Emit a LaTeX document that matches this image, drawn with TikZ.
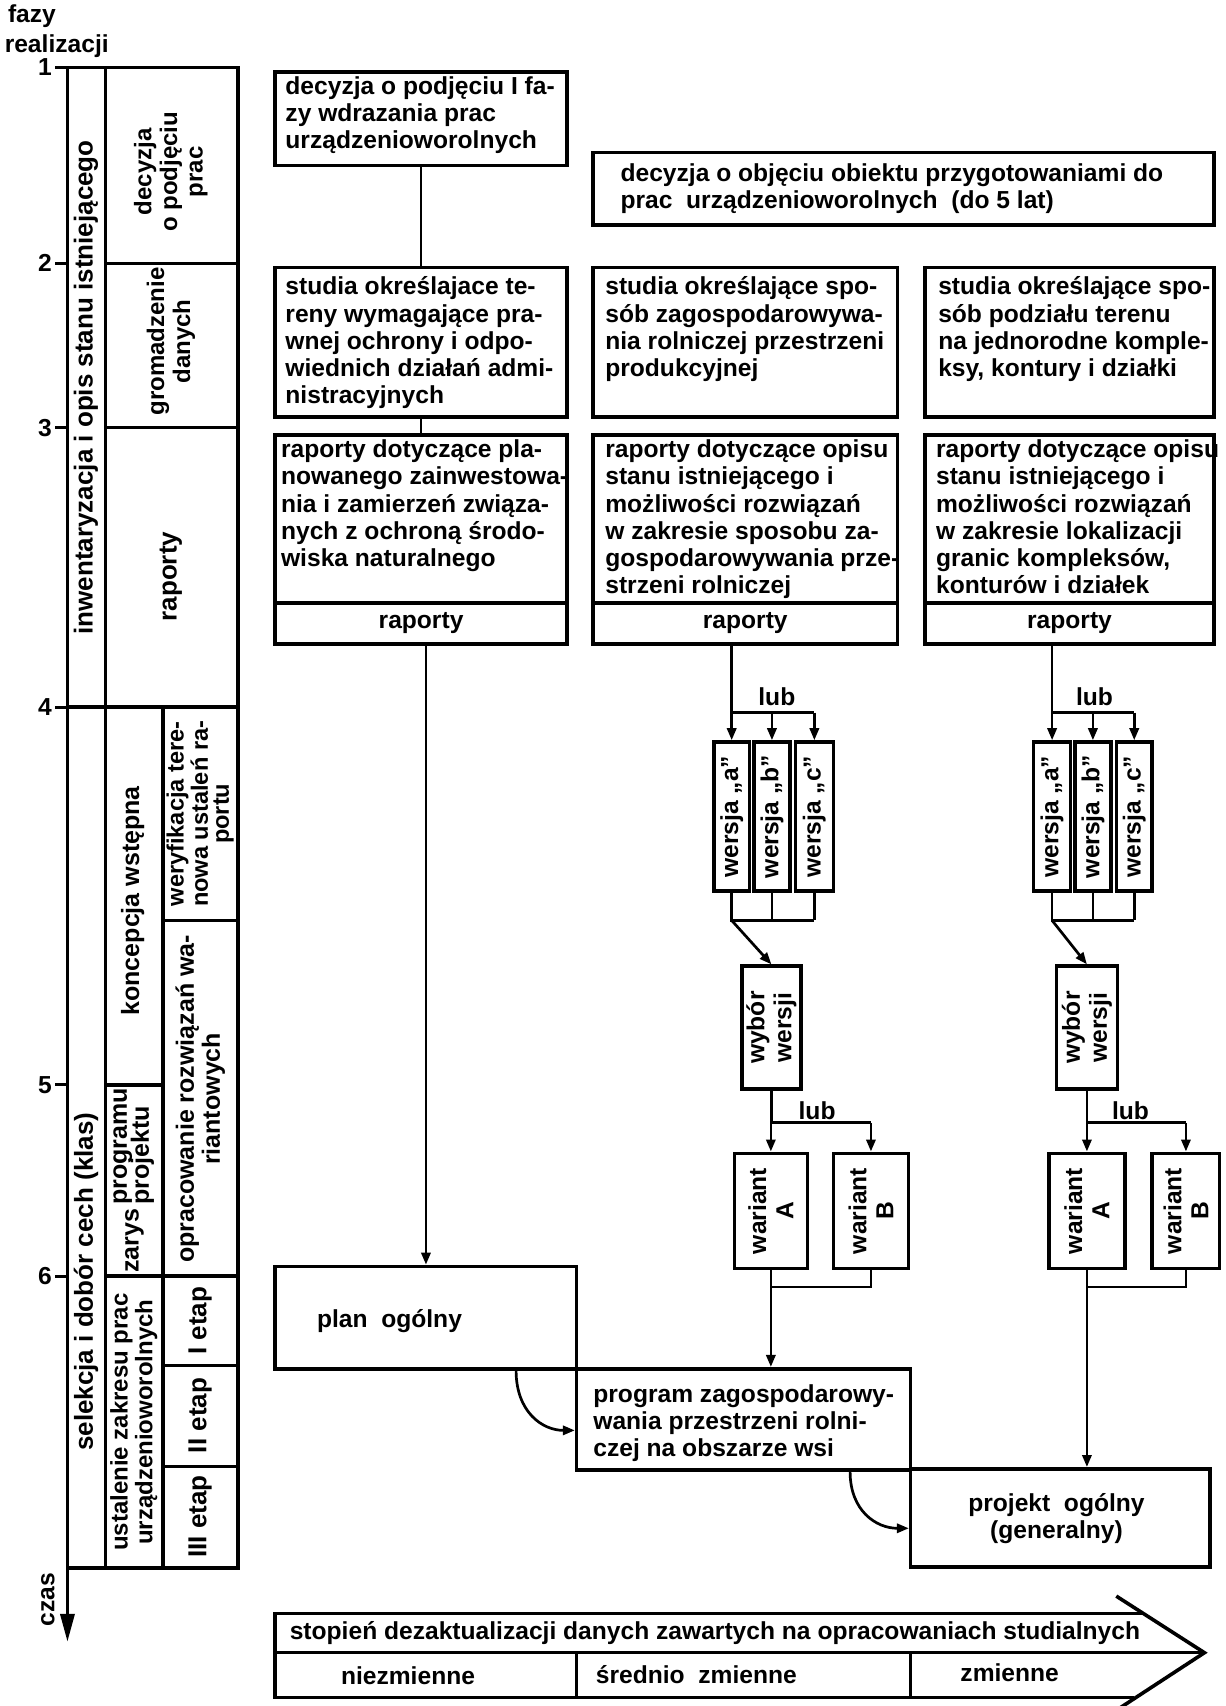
\documentclass[tikz,border=0pt]{standalone}
\usepackage{fontspec}
\setmainfont{Liberation Sans}
\usetikzlibrary{arrows.meta,fit,calc}
\newcommand\myfmain{\fontsize{12.3}{13.6}\selectfont\bfseries}
\begin{document}
\begin{tikzpicture}[x=0.544pt,y=-0.544pt,
  frame/.style={draw, line width=1.8pt, inner sep=0pt},
  conn/.style={line width=1.35pt},
  arr/.style={conn, -{Triangle[length=6pt,width=4.6pt]}},
  txt/.style={inner sep=0pt, align=left, anchor=north west, font=\myfmain},
  ctxt/.style={inner sep=0pt, align=center, font=\myfmain},
  rtxt/.style={inner sep=0pt, align=center, rotate=90, font=\fontsize{12.5}{13}\selectfont\bfseries},
  vtxt/.style={inner sep=0pt, align=center, rotate=90, font=\myfmain},
]
\useasboundingbox (0,0) rectangle (1126,1568);

% ---------- time axis ----------
\node[inner sep=0pt, anchor=west, font=\myfmain] (fazy) at (7,15) {fazy};
\node[inner sep=0pt, anchor=west, font=\myfmain] (realiz) at (4,42) {realizacji};
\coordinate (ax0) at (62,62);
\coordinate (ax1) at (62,1509);
\draw[line width=1.8pt, -{Triangle[length=14pt,width=7pt]}] (ax0) -- (ax1);
\foreach \n/\yy in {1/62,2/242,3/393,4/650,5/997,6/1173}{
  \draw[line width=1.5pt] (51,\yy) -- (62,\yy);
  \node[inner sep=0pt, anchor=east, font=\myfmain] (tick\n) at (48,\yy) {\n};
}
\node[vtxt] (czas) at (44,1470) {czas};

% ---------- left table ----------
\node[frame, fit={(62,62) (97,650)}] (cInw) {};
\node[rtxt, font=\fontsize{13}{13}\selectfont\bfseries] (cInwT) at (79,356) {inwentaryzacja i opis stanu istniejącego};
\node[frame, fit={(97,62) (219,242)}] (cDec) {};
\node[rtxt, font=\fontsize{12}{12.8}\selectfont\bfseries] (cDecT) at (157,158) {decyzja\\o podjęciu\\prac};
\node[frame, fit={(97,242) (219,393)}] (cGro) {};
\node[rtxt, font=\fontsize{12}{13}\selectfont\bfseries] (cGroT) at (157,314) {gromadzenie\\danych};
\node[frame, fit={(97,393) (219,650)}] (cRap) {};
\node[rtxt, font=\fontsize{13}{13}\selectfont\bfseries] (cRapT) at (157,530) {raporty};
\node[frame, fit={(62,650) (97,1441)}] (cSel) {};
\node[rtxt, font=\fontsize{13}{13}\selectfont\bfseries] (cSelT) at (79,1178) {selekcja i dobór cech (klas)};
\node[frame, fit={(97,650) (150,997)}] (cKon) {};
\node[rtxt] (cKonT) at (122,828) {koncepcja wstępna};
\node[frame, fit={(97,997) (150,1173)}] (cZar) {};
\node[rtxt] (cZarT) at (122,1085) {\begin{tabular}{@{}l@{\,}l@{}}zarys&\begin{tabular}{@{}l@{}}programu\\[-2pt]projektu\end{tabular}\end{tabular}};
\node[frame, fit={(97,1173) (150,1441)}] (cUst) {};
\node[rtxt, font=\fontsize{12}{12.3}\selectfont\bfseries] (cUstT) at (123,1307) {ustalenie zakresu prac\\urządzenioworolnych};
\node[frame, fit={(150,650) (219,846)}] (cWer) {};
\node[rtxt, font=\fontsize{11.8}{10.6}\selectfont\bfseries] (cWerT) at (184,748) {weryfikacja tere-\\nowa ustaleń ra-\\portu};
\node[frame, fit={(150,846) (219,1173)}] (cOpr) {};
\node[rtxt] (cOprT) at (184,1010) {opracowanie rozwiązań wa-\\riantowych};
\node[frame, fit={(150,1173) (219,1255)}] (cE1) {};
\node[rtxt, font=\fontsize{13}{13}\selectfont\bfseries] (cE1T) at (184,1214) {I etap};
\node[frame, fit={(150,1255) (219,1348)}] (cE2) {};
\node[rtxt, font=\fontsize{13}{13}\selectfont\bfseries] (cE2T) at (184,1301) {II etap};
\node[frame, fit={(150,1348) (219,1441)}] (cE3) {};
\node[rtxt, font=\fontsize{13}{13}\selectfont\bfseries] (cE3T) at (184,1394) {III etap};

% ---------- upper boxes ----------
\node[frame, fit={(253,66) (521,152)}] (A) {};
\node[txt] (AT) at (262,70) {decyzja o podjęciu I fa-\\zy wdrazania prac\\urządzenioworolnych};
\node[frame, fit={(545,140) (1116,207)}] (B) {};
\node[txt] (BT) at (570,150) {decyzja o objęciu obiektu przygotowaniami do\\prac\ \ urządzenioworolnych\ \ (do 5 lat)};
\node[frame, fit={(253,246) (521,383)}] (C) {};
\node[txt] (CT) at (262,254) {studia określajace te-\\reny wymagające pra-\\wnej ochrony i odpo-\\wiednich działań admi-\\nistracyjnych};
\node[frame, fit={(545,246) (825,383)}] (D) {};
\node[txt] (DT) at (556,254) {studia określające spo-\\sób zagospodarowywa-\\nia rolniczej przestrzeni\\produkcyjnej};
\node[frame, fit={(850,246) (1116,383)}] (E) {};
\node[txt] (ET) at (862,254) {studia określające spo-\\sób podziału terenu\\na jednorodne komple-\\ksy, kontury i działki};

\node[frame, fit={(253,400) (521,592)}] (F) {};
\node[txt] (FT) at (258,404) {raporty dotyczące pla-\\nowanego zainwestowa-\\nia i zamierzeń związa-\\nych z ochroną środo-\\wiska naturalnego};
\node[frame, fit={(253,554) (521,592)}] (Ff) {};
\node[ctxt] (FfT) at (Ff.center) {raporty};
\node[frame, fit={(545,400) (825,592)}] (G) {};
\node[txt] (GT) at (556,404) {raporty dotyczące opisu\\stanu istniejącego i\\możliwości rozwiązań\\w zakresie sposobu za-\\gospodarowywania prze-\\strzeni rolniczej};
\node[frame, fit={(545,554) (825,592)}] (Gf) {};
\node[ctxt] (GfT) at (Gf.center) {raporty};
\node[frame, fit={(850,400) (1116,592)}] (H) {};
\node[txt] (HT) at (860,404) {raporty dotyczące opisu\\stanu istniejącego i\\możliwości rozwiązań\\w zakresie lokalizacji\\granic kompleksów,\\konturów i działek};
\node[frame, fit={(850,554) (1116,592)}] (Hf) {};
\node[ctxt] (HfT) at (Hf.center) {raporty};

\draw[conn] (A.south) -- (C.north);
\draw[conn] (C.south) -- (F.north);

% ---------- lower boxes ----------
\node[frame, fit={(253,1164) (530,1258)}] (plan) {};
\node[ctxt] (planT) at (358,1214) {plan\ \ ogólny};
\node[frame, fit={(530,1258) (837,1351)}] (prog) {};
\node[txt] (progT) at (545,1272) {program zagospodarowy-\\wania przestrzeni rolni-\\czej na obszarze wsi};
\node[frame, fit={(837,1350) (1112,1440)}] (proj) {};
\node[ctxt] (projT) at (971,1396) {projekt\ \ ogólny\\(generalny)};

\draw[arr] (plan.north |- F.south) -- (plan.north);

% ---------- middle flow ----------
\coordinate (r1) at (0,655);
\coordinate (r2) at (0,846);
\coordinate (r3) at (0,1032);
\coordinate (r4) at (0,1183);

\node[frame, fit={(656,682) (689,819)}] (wa1) {};
\node[vtxt] (wa1T) at (wa1.center) {wersja „a”};
\node[frame, fit={(693,682) (726,819)}] (wb1) {};
\node[vtxt] (wb1T) at (wb1.center) {wersja „b”};
\node[frame, fit={(731,682) (766,819)}] (wc1) {};
\node[vtxt] (wc1T) at (wc1.center) {wersja „c”};
\node[frame, fit={(682,888) (736,1001)}] (wy1) {};
\node[vtxt] (wy1T) at (wy1.center) {wybór\\wersji};
\node[frame, fit={(675,1060) (742,1166)}] (vA1) {};
\node[vtxt] (vA1T) at (vA1.center) {wariant\\A};
\node[frame, fit={(766,1060) (835,1166)}] (vB1) {};
\node[vtxt] (vB1T) at (vB1.center) {wariant\\B};

\draw[conn] (wa1 |- G.south) -- (wa1 |- r1) -- (wc1 |- r1);
\draw[arr] (wa1 |- r1) -- (wa1.north);
\draw[arr] (wb1 |- r1) -- (wb1.north);
\draw[arr] (wc1 |- r1) -- (wc1.north);
\node[ctxt] (lub1) at (714,640) {lub};
\draw[conn] (wa1.south) -- (wa1 |- r2) -- (wc1 |- r2);
\draw[conn] (wb1.south) -- (wb1 |- r2);
\draw[conn] (wc1.south) -- (wc1 |- r2);
\draw[arr] (wa1 |- r2) -- (wy1.north);
\draw[conn] (wy1.south) -- (wy1 |- r3) -- (vB1 |- r3);
\draw[arr] (vA1 |- r3) -- (vA1.north);
\draw[arr] (vB1 |- r3) -- (vB1.north);
\node[ctxt] (lub2) at (751,1021) {lub};
\draw[conn] (vB1.south) -- (vB1 |- r4) -- (vA1 |- r4);
\draw[arr] (vA1.south) -- (vA1 |- prog.north);

% ---------- right flow ----------
\node[frame, fit={(950,682) (984,819)}] (wa2) {};
\node[vtxt] (wa2T) at (wa2.center) {wersja „a”};
\node[frame, fit={(988,682) (1021,819)}] (wb2) {};
\node[vtxt] (wb2T) at (wb2.center) {wersja „b”};
\node[frame, fit={(1026,682) (1059,819)}] (wc2) {};
\node[vtxt] (wc2T) at (wc2.center) {wersja „c”};
\node[frame, fit={(971,888) (1027,1001)}] (wy2) {};
\node[vtxt] (wy2T) at (wy2.center) {wybór\\wersji};
\node[frame, fit={(964,1060) (1034,1166)}] (vA2) {};
\node[vtxt] (vA2T) at (vA2.center) {wariant\\A};
\node[frame, fit={(1059,1060) (1121,1166)}] (vB2) {};
\node[vtxt] (vB2T) at (vB2.center) {wariant\\B};

\draw[conn] (wa2 |- H.south) -- (wa2 |- r1) -- (wc2 |- r1);
\draw[arr] (wa2 |- r1) -- (wa2.north);
\draw[arr] (wb2 |- r1) -- (wb2.north);
\draw[arr] (wc2 |- r1) -- (wc2.north);
\node[ctxt] (lub3) at (1006,640) {lub};
\draw[conn] (wa2.south) -- (wa2 |- r2) -- (wc2 |- r2);
\draw[conn] (wb2.south) -- (wb2 |- r2);
\draw[conn] (wc2.south) -- (wc2 |- r2);
\draw[arr] (wa2 |- r2) -- (wy2.north);
\draw[conn] (wy2.south) -- (wy2 |- r3) -- (vB2 |- r3);
\draw[arr] (vA2 |- r3) -- (vA2.north);
\draw[arr] (vB2 |- r3) -- (vB2.north);
\node[ctxt] (lub4) at (1039,1021) {lub};
\draw[conn] (vB2.south) -- (vB2 |- r4) -- (vA2 |- r4);
\draw[arr] (vA2.south) -- (vA2 |- proj.north);

% ---------- curved arrows ----------
\draw[arr] ($(plan.south west)+(223,0)$) .. controls +(0,38) and +(-30,0) .. ($(prog.south west)+(0,-38)$);
\draw[arr] ($(prog.south west)+(253,0)$) .. controls +(0,36) and +(-30,0) .. ($(proj.south west)+(0,-37)$);

% ---------- bottom arrow ----------
\draw[line width=1.8pt] (1051,1483) -- (253,1483) -- (253,1560) -- (1042,1560);
\draw[line width=1.8pt] (1026,1467) -- (1107,1519) -- (1029,1570);
\draw[line width=1.5pt] (253,1519) -- (1105,1519);
\draw[line width=1.5pt] (530,1519) -- (530,1560);
\draw[line width=1.5pt] (837,1519) -- (837,1560);
\node[inner sep=0pt, anchor=west, font=\myfmain] (degT) at (266,1501) {stopień dezaktualizacji danych zawartych na opracowaniach studialnych};
\node[ctxt] (n1) at (375,1540) {niezmienne};
\node[ctxt] (n2) at (640,1539) {średnio\ \ zmienne};
\node[ctxt] (n3) at (928,1537) {zmienne};
\end{tikzpicture}
\end{document}
